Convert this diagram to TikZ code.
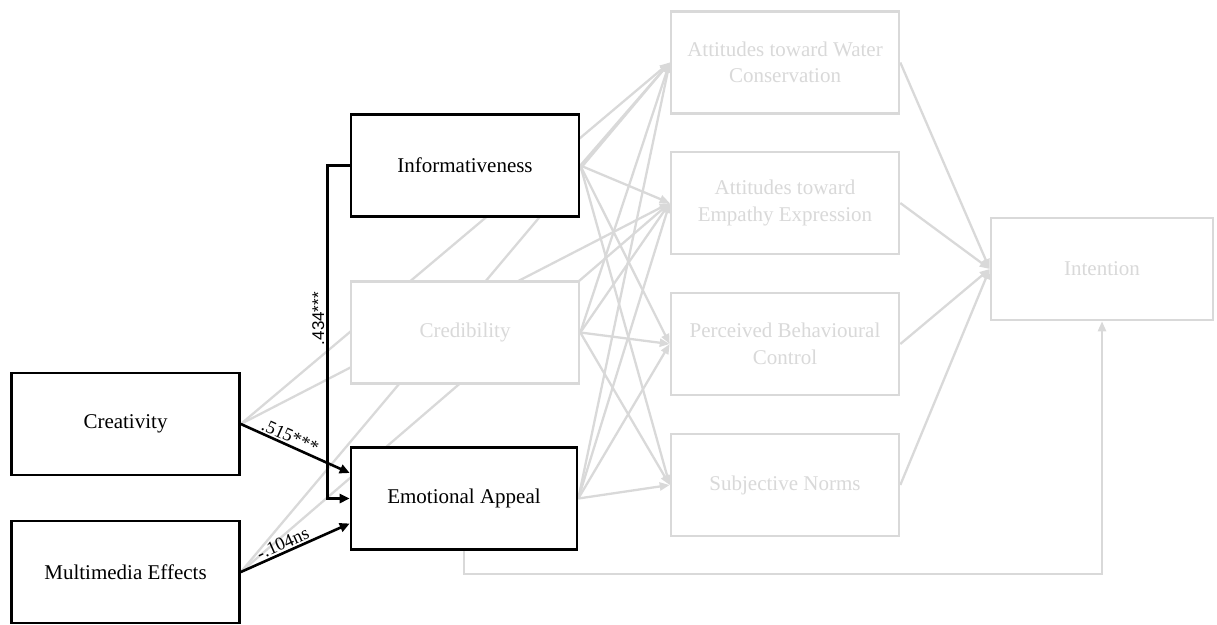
\documentclass[tikz,border=0pt]{standalone}
\usepackage{fontspec}
\setmainfont{Liberation Serif}
\newfontfamily\coefsans{Liberation Sans}
\usetikzlibrary{arrows.meta,backgrounds}
\definecolor{faint}{HTML}{D9D9D9}
\tikzset{
  box/.style={draw,line width=2.6pt,fill=white,minimum width=228pt,minimum height=102pt,
    align=center,font=\fontsize{21}{26.5}\selectfont},
  dim/.style={box,draw=faint,text=faint},
  tested/.style={line width=2.6pt,-{Triangle[length=10pt,width=9pt]}},
  faded/.style={draw=faint,line width=2.3pt,-{Triangle[length=10pt,width=8pt]}},
  coef/.style={font=\fontsize{18.5}{18.5}\selectfont,inner sep=1.5pt},
}
\begin{document}
\begin{tikzpicture}[x=1pt,y=-1pt]
\useasboundingbox (0,0) rectangle (1217,624);
% predictors
\node[box] (crea) at (125.5,424) {Creativity};
\node[box] (mult) at (125.5,572) {Multimedia Effects};
% message appeals
\node[box] (inf) at (465,165.5) {Informativeness};
\node[dim] (cred) at (465,332.5) {Credibility};
\node[box,minimum width=226pt] (emo) at (464,498.5) {Emotional Appeal};
% attitudes and norms
\node[dim] (water) at (785,62.5) {Attitudes toward Water\\Conservation};
\node[dim] (emp) at (785,203) {Attitudes toward\\Empathy Expression};
\node[dim] (pbc) at (785,344) {Perceived Behavioural\\Control};
\node[dim] (sn) at (785,485) {Subjective Norms};
\node[dim,minimum width=222pt] (intent) at (1102,269) {Intention};

% untested paths go behind the boxes
\begin{scope}[on background layer]
\foreach \s in {crea,mult} \foreach \t in {water,emp}
  \draw[faded] (\s.east) -- (\t.west);
\foreach \s in {inf,cred,emo} \foreach \t in {water,emp,pbc,sn}
  \draw[faded] (\s.east) -- (\t.west);
\foreach \s in {water,emp,pbc,sn}
  \draw[faded] (\s.east) -- (intent.west);
\draw[faded] (emo.south) -- ++(0,23) -| (intent.south);
\end{scope}

% paths into emotional appeal
\draw[tested] (crea.east) -- node[coef,sloped,above,pos=0.42] {.515***} ([yshift=25.5pt]emo.west);
\draw[tested] (mult.east) -- node[coef,sloped,above,pos=0.42] {-.104ns} ([yshift=-25pt]emo.west);
\draw[tested] (inf.west) -- ++(-22,0) |- node[coef,font=\coefsans\fontsize{17}{17}\selectfont,
  rotate=90,anchor=south,pos=0.23,inner sep=2pt] {.434***} (emo.west);
\end{tikzpicture}
\end{document}
